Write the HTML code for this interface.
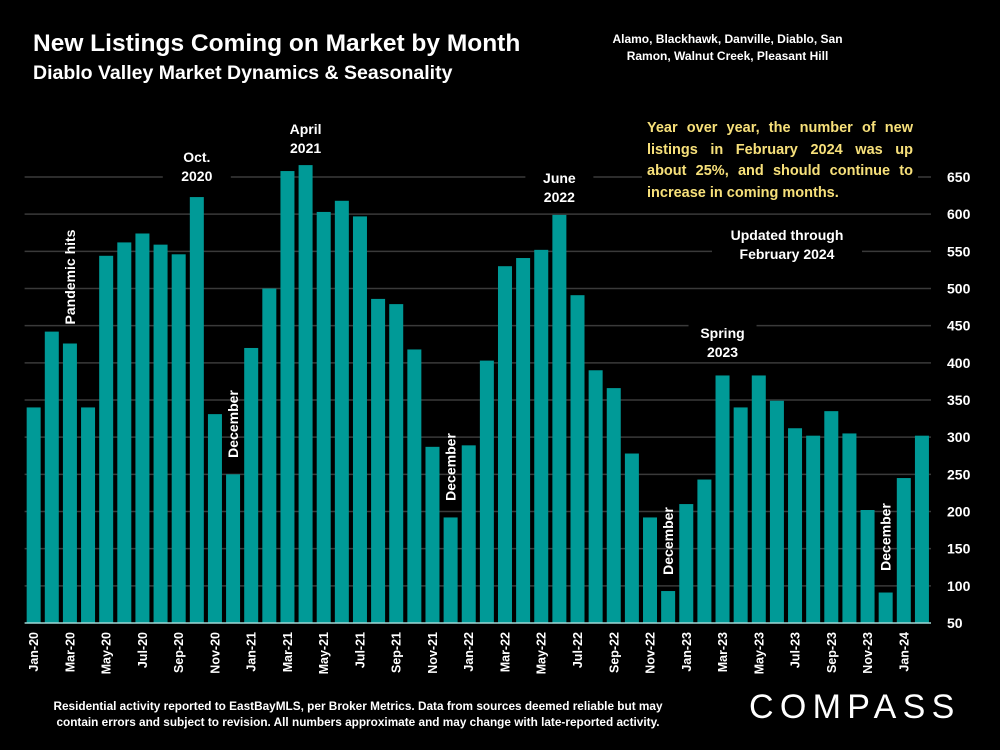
<!DOCTYPE html>
<html><head><meta charset="utf-8">
<style>
body{margin:0;background:#000;}
#wrap{position:relative;width:1000px;height:750px;background:#000;overflow:hidden;font-family:"Liberation Sans",sans-serif;color:#fff;}
svg{position:absolute;left:0;top:0}
.t{position:absolute;font-weight:bold;white-space:nowrap}
.j{display:block;text-align:justify;text-align-last:justify}
</style></head><body>
<div id="wrap">
<svg id="chart" width="1000" height="750"></svg>
<div class="t" style="left:33px;top:30px;font-size:24.5px;">New Listings Coming on Market by Month</div>
<div class="t" style="left:33px;top:62px;font-size:19.5px;">Diablo Valley Market Dynamics &amp; Seasonality</div>
<div class="t" style="left:600px;top:31px;width:255px;text-align:center;font-size:12px;line-height:17px;">Alamo, Blackhawk, Danville, Diablo, San<br>Ramon, Walnut Creek, Pleasant Hill</div>
<div class="t" style="left:642px;top:118px;width:266px;padding:0 5px;background:#000;font-size:14.5px;line-height:21.5px;color:#f7e07a;">
<span class="j">Year over year, the number of new</span><span class="j">listings in February 2024 was up</span><span class="j">about 25%, and should continue to</span><span style="display:block">increase in coming months.</span></div>
<div class="t" style="left:712px;top:226px;width:150px;background:#000;text-align:center;font-size:14px;line-height:19px;">Updated through<br>February 2024</div>
<div class="t" style="left:20px;top:698px;width:676px;text-align:center;font-size:11.8px;line-height:16px;">Residential activity reported to EastBayMLS, per Broker Metrics. Data from sources deemed reliable but may<br>contain errors and subject to revision. All numbers approximate and may change with late-reported activity.</div>
<div class="t" style="left:749px;top:688px;font-size:34px;font-weight:normal;letter-spacing:6.3px;">COMPASS</div>
</div>
<script>
const categories=["Jan-20","Feb-20","Mar-20","Apr-20","May-20","Jun-20","Jul-20","Aug-20","Sep-20","Oct-20","Nov-20","Dec-20","Jan-21","Feb-21","Mar-21","Apr-21","May-21","Jun-21","Jul-21","Aug-21","Sep-21","Oct-21","Nov-21","Dec-21","Jan-22","Feb-22","Mar-22","Apr-22","May-22","Jun-22","Jul-22","Aug-22","Sep-22","Oct-22","Nov-22","Dec-22","Jan-23","Feb-23","Mar-23","Apr-23","May-23","Jun-23","Jul-23","Aug-23","Sep-23","Oct-23","Nov-23","Dec-23","Jan-24","Feb-24"];
const values=[340,442,426,340,544,562,574,559,546,623,331,250,420,500,658,666,603,618,597,486,479,418,287,192,289,403,530,541,552,599,491,390,366,278,192,93,210,243,383,340,383,349,312,302,335,305,202,91,245,302];
const yTicks=[50,100,150,200,250,300,350,400,450,500,550,600,650];
const annotations=[["Pandemic hits",2,true,277],["Oct.|2020",9,false,157],["April|2021",15,false,129],["December",11,true,424],["December",23,true,467],["June|2022",29,false,178],["December",35,true,541],["Spring|2023",38,false,333],["December",47,true,537]];
const NS="http://www.w3.org/2000/svg";
const svg=document.getElementById('chart');
const L=24.6,R=931,Y0=623,Y1=177,VMIN=50,VMAX=650;
const step=(R-L)/categories.length;
const y=v=>Y0-(v-VMIN)/(VMAX-VMIN)*(Y0-Y1);
const xc=i=>L+step*(i+0.5);
function mk(t,a){const e=document.createElementNS(NS,t);for(const k in a)e.setAttribute(k,a[k]);svg.appendChild(e);return e;}
yTicks.forEach(v=>{
  if(v>VMIN){const g=mk('line',{x1:L,x2:R,y1:y(v),y2:y(v),stroke:'#3a3a3a','stroke-width':1.5});
  
  }
  const t=mk('text',{x:947,y:y(v)+5,fill:'#fff','font-size':14,'font-weight':'bold','font-family':'Liberation Sans, sans-serif'});
  t.textContent=v;
  
  
});
values.forEach((v,i)=>{
  const r=mk('rect',{x:xc(i)-7,y:y(v),width:14,height:Y0-y(v),fill:'#009a97'});
  
  
});
const base=mk('line',{x1:L,x2:R,y1:Y0,y2:Y0,stroke:'#a0d8d6','stroke-width':1.5});


categories.forEach((c,i)=>{
  if(i%2)return;
  const t=mk('text',{x:0,y:0,fill:'#fff','font-size':12.5,'font-weight':'bold','font-family':'Liberation Sans, sans-serif','text-anchor':'end',transform:`translate(${xc(i)+4.5},632) rotate(-90)`});
  t.textContent=c;
  
  
});
annotations.forEach(a=>{
  const [txt,i,rot,yy]=a;
  if(rot){
    const t=mk('text',{x:0,y:0,fill:'#fff','font-size':14,'font-weight':'bold','font-family':'Liberation Sans, sans-serif','text-anchor':'middle',transform:`translate(${xc(i)+5},${yy}) rotate(-90)`});
    t.textContent=txt;
    
    
  }else{
    const lines=txt.split('|');
    const bg=mk('rect',{x:xc(i)-34,y:yy-14,width:68,height:42,fill:'#000'});
    
    
    lines.forEach((s,k)=>{
      const t=mk('text',{x:xc(i),y:yy+5+k*19,fill:'#fff','font-size':14,'font-weight':'bold','font-family':'Liberation Sans, sans-serif','text-anchor':'middle'});
      t.textContent=s;
      
      
    });
  }
});
</script>
</body></html>
